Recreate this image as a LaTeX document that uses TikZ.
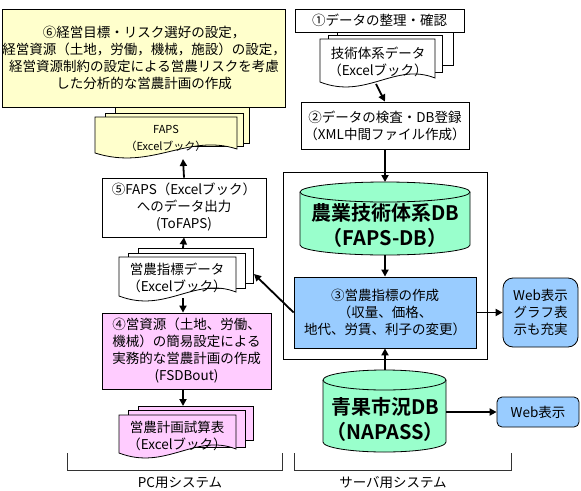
\documentclass[tikz,border=0pt]{standalone}
\usepackage{fontspec}
\setmainfont{Noto Sans CJK JP}[BoldFont={Noto Sans CJK JP Bold}]
\usetikzlibrary{arrows.meta}
\definecolor{cyel}{HTML}{FFFFCC}
\definecolor{cpink}{HTML}{FFCCFF}
\definecolor{cblue}{HTML}{99CCFF}
\definecolor{cgreen}{HTML}{99FFCC}
\newcommand\myback[5]{\filldraw[boxline,fill=#5] (#1,#2) rectangle (#3,#4);}
\newcommand\mydoc[5]{\filldraw[boxline,fill=#5] (#1,#2) -- (#3,#2) -- (#3,{#4-4})
  .. controls ({#1+0.65*(#3-#1)},{#4-20}) and ({#1+0.4*(#3-#1)},{#4+18}) .. (#1,#4) -- cycle;}
\begin{document}
\begin{tikzpicture}[x=1pt,y=-1pt,
  boxline/.style={draw=black,line width=0.8pt},
  txt/.style={align=center,inner sep=0pt,font=\fontsize{13.5}{17}\selectfont},
  smalltxt/.style={align=center,inner sep=0pt,font=\fontsize{11}{17}\selectfont},
  dbtxt/.style={align=center,inner sep=0pt,font=\fontsize{20}{25}\selectfont\bfseries},
  arr/.style={line width=1.8pt,-{Triangle[length=7pt,width=7pt]}},
  bracket/.style={draw=black!80,line width=0.8pt}]
\useasboundingbox (0,0) rectangle (581,490);

% ===== left column =====
% FAPS document stack
\myback{115}{100}{249}{143}{cyel}
\myback{105}{113}{243}{146}{cyel}
\mydoc{95}{117}{237}{153}{cyel}
\node[smalltxt] (fapsdoc) at (166,138) {FAPS\\（Excelブック）};
\coordinate (fapsbot) at (183,159);

% box 6
\node[boxline,txt,fill=cyel,minimum width=274pt,minimum height=98pt] (b6) at (144,58)
  {⑥経営目標・リスク選好の設定，\\経営資源（土地，労働，機械，施設）の設定，\\経営資源制約の設定による営農リスクを考慮\\した分析的な営農計画の作成};

% box 5
\node[boxline,txt,fill=white,minimum width=164pt,minimum height=59pt] (b5) at (184,207.5)
  {⑤FAPS（Excelブック）\\へのデータ出力\\(ToFAPS)};

% index data stack
\myback{138}{248}{253}{283}{white}
\myback{128}{253}{245}{288}{white}
\mydoc{119}{257}{236}{296}{white}
\node[txt] (idxdoc) at (177,277.5) {営農指標データ\\（Excelブック）};
\coordinate (idxtop) at (183,248);
\coordinate (idxbot) at (183,298);
\coordinate (idxright) at (254,274);

% box 4
\node[boxline,txt,fill=cpink,minimum width=169pt,minimum height=76pt] (b4) at (186.5,351)
  {④営資源（土地、労働、\\機械）の簡易設定による\\実務的な営農計画の作成\\(FSDBout)};

% plan stack
\myback{138}{406}{253}{440}{cpink}
\myback{128}{410}{245}{447}{cpink}
\mydoc{119}{415}{236}{453}{cpink}
\node[txt] (plandoc) at (177,435.5) {営農計画試算表\\（Excelブック）};
\coordinate (plantop) at (183,406);

% ===== right column =====
% tech data stack
\myback{337}{30}{453}{65}{white}
\myback{328}{35}{442}{72}{white}
\mydoc{320}{39}{435}{82}{white}
\node[txt] (techdoc) at (378,61.5) {技術体系データ\\（Excelブック）};
\coordinate (techbot) at (376,84);

% box 1
\node[boxline,txt,fill=white,minimum width=169pt,minimum height=23pt] (b1) at (379.5,20.5)
  {①データの整理・確認};

% box 2
\node[boxline,txt,fill=white,minimum width=168pt,minimum height=47pt] (b2) at (385,125.5)
  {②データの検査・DB登録\\（XML中間ファイル作成）};

% server frame
\draw[boxline] (283,172) rectangle (487,359);

% FAPS-DB cylinder
\filldraw[boxline,fill=cgreen] (300,192) -- (300,245)
  arc[start angle=180,end angle=360,x radius=85pt,y radius=10pt] -- (470,192)
  arc[start angle=0,end angle=180,x radius=85pt,y radius=10pt] -- cycle;
\draw[boxline] (300,192) arc[start angle=180,end angle=360,x radius=85pt,y radius=10pt];
\node[dbtxt] (fapsdb) at (385,225) {農業技術体系DB\\（FAPS-DB）};
\coordinate (fapsdbtop) at (385,182);
\coordinate (fapsdbbot) at (385,255);

% box 3
\node[boxline,txt,fill=cblue,minimum width=182pt,minimum height=71pt] (b3) at (385,312.5)
  {③営農指標の作成\\（収量、価格、\\地代、労賃、利子の変更）};

% web box 1
\node[boxline,txt,fill=cblue,rounded corners=10pt,minimum width=75pt,minimum height=69pt] (web1) at (540.5,312.5)
  {Web表示\\グラフ表\\示も充実};

% NAPASS cylinder
\filldraw[boxline,fill=cgreen] (323,380) -- (323,442)
  arc[start angle=180,end angle=360,x radius=61.5pt,y radius=10pt] -- (446,380)
  arc[start angle=0,end angle=180,x radius=61.5pt,y radius=10pt] -- cycle;
\draw[boxline] (323,380) arc[start angle=180,end angle=360,x radius=61.5pt,y radius=10pt];
\node[dbtxt] (napass) at (385,419.5) {青果市況DB\\（NAPASS）};
\coordinate (napasstop) at (385,370);
\coordinate (napassright) at (446,412);

% web box 2
\node[boxline,txt,fill=cblue,rounded corners=5pt,minimum width=82pt,minimum height=30pt] (web2) at (538,412)
  {Web表示};

% ===== arrows =====
\draw[arr] (b5.north) -- (fapsbot);
\draw[arr] (idxtop) -- (b5.south);
\draw[arr] (idxbot) -- (b4.north -| idxbot);
\draw[arr] (b4.south -| plantop) -- (plantop);
\draw[arr] (b3.west) -- (idxright);
\draw[arr] (techbot) -- (b2.north);
\draw[arr] (b2.south) -- (fapsdbtop);
\draw[arr] (fapsdbbot) -- (b3.north);
\draw[arr] (b3.east) -- (web1.west);
\draw[arr] (napasstop) -- (b3.south);
\draw[arr] (napassright) -- (web2.west);

% ===== brackets =====
\draw[bracket] (67,453) -- (67,470) -- (282,470) -- (282,453);
\draw[bracket] (294,453) -- (294,470) -- (511,470) -- (511,453);
\node[txt] (pclabel) at (180,483) {PC用システム};
\node[txt] (svlabel) at (393,483) {サーバ用システム};
\end{tikzpicture}
\end{document}
